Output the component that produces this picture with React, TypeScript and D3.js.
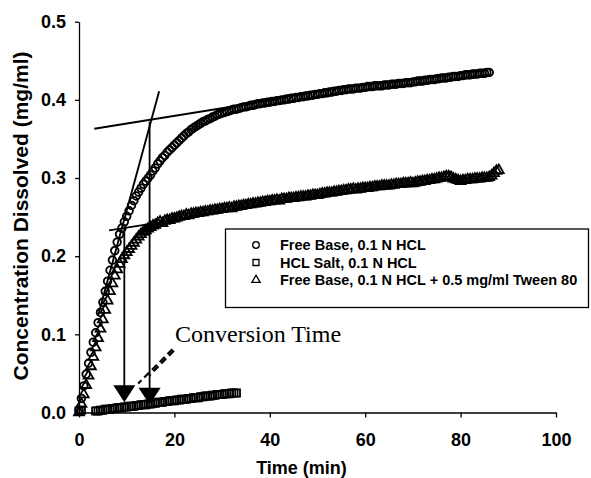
import * as d3 from "d3";
import { useEffect, useRef } from "react";

const W = 591;
const H = 478;

// runs were sampled every 0.5 min starting at t = 0
const sampleStart = 0;
const sampleStep = 0.5;

// Free Base, 0.1 N HCL (mg/ml), t = 0 .. 86 min
const freeBase = [
  0.003, 0.018, 0.034, 0.049, 0.063, 0.077, 0.09, 0.102, 0.115, 0.128,
  0.141, 0.155, 0.168, 0.182, 0.195, 0.207, 0.218, 0.228, 0.236, 0.244,
  0.251, 0.258, 0.265, 0.271, 0.277, 0.282, 0.287, 0.292, 0.296, 0.3,
  0.304, 0.309, 0.313, 0.318, 0.322, 0.326, 0.329, 0.333, 0.336, 0.339,
  0.342, 0.345, 0.348, 0.351, 0.354, 0.357, 0.359, 0.362, 0.364, 0.366,
  0.368, 0.37, 0.372, 0.373, 0.375, 0.376, 0.378, 0.379, 0.381, 0.382,
  0.383, 0.384, 0.385, 0.386, 0.387, 0.388, 0.388, 0.389, 0.39, 0.391,
  0.391, 0.392, 0.393, 0.393, 0.394, 0.395, 0.395, 0.396, 0.396, 0.397,
  0.397,
  0.398, 0.398, 0.399, 0.399, 0.4, 0.4, 0.401, 0.401, 0.402, 0.402,
  0.403, 0.403, 0.404, 0.404, 0.405, 0.405, 0.406, 0.406, 0.407, 0.407,
  0.408, 0.408, 0.409, 0.409, 0.41, 0.41, 0.411, 0.411, 0.412, 0.412,
  0.413, 0.413, 0.414, 0.414, 0.414, 0.415, 0.415, 0.415, 0.416, 0.416,
  0.417, 0.417, 0.417, 0.418, 0.418, 0.418, 0.418, 0.419, 0.419, 0.419,
  0.42, 0.42, 0.42, 0.421, 0.421, 0.421, 0.422, 0.422, 0.422, 0.423,
  0.423, 0.424, 0.424, 0.424, 0.425, 0.425, 0.426, 0.426, 0.426, 0.427,
  0.427, 0.428, 0.428, 0.428, 0.429, 0.429, 0.43, 0.43, 0.43, 0.431,
  0.431, 0.432, 0.432, 0.432, 0.433, 0.433, 0.433, 0.434, 0.434, 0.434,
  0.435, 0.435,
];

// HCL Salt, 0.1 N HCL (mg/ml), t = 0 .. 33 min, null = no sample
const hclSalt = [
  0.002, 0.003, null, null, null, null, null, 0.002, 0.002, 0.003,
  0.003, 0.004, 0.004, 0.004, 0.005, 0.005, 0.006, 0.006, 0.006, 0.007,
  0.007, 0.008, 0.008, 0.008, 0.009, 0.009, 0.01, 0.01, 0.01, 0.011,
  0.011, 0.012, 0.012, 0.013, 0.013, 0.013, 0.014, 0.014, 0.015, 0.015,
  0.015, 0.016, 0.016, 0.017, 0.017, 0.017, 0.018, 0.018, 0.019, 0.019,
  0.019, 0.02, 0.02, 0.021, 0.021, 0.021, 0.022, 0.022, 0.023, 0.023,
  0.023, 0.024, 0.024, 0.024, 0.025, 0.025, 0.025,
];

// Free Base, 0.1 N HCL + 0.5 mg/ml Tween 80 (mg/ml), t = 0 .. 88 min
const tween = [
  0.0, 0.011, 0.023, 0.035, 0.047, 0.059, 0.071, 0.083, 0.095, 0.107,
  0.119, 0.131, 0.143, 0.155, 0.165, 0.175, 0.183, 0.19, 0.196, 0.201,
  0.205, 0.209, 0.213, 0.217, 0.221, 0.225, 0.228, 0.231, 0.233, 0.235,
  0.237, 0.239, 0.24, 0.242, 0.244, 0.242, 0.245, 0.246, 0.246, 0.248,
  0.248, 0.249, 0.25, 0.251, 0.251, 0.253, 0.252, 0.254, 0.254, 0.255,
  0.255,
  0.256, 0.256, 0.257, 0.257, 0.258, 0.258, 0.259, 0.259, 0.26, 0.26,
  0.261, 0.261, 0.262, 0.261, 0.263, 0.263, 0.264, 0.264, 0.265, 0.265,
  0.266, 0.266, 0.267, 0.267, 0.268, 0.268, 0.269, 0.269, 0.27, 0.27,
  0.271, 0.271, 0.272, 0.271, 0.273, 0.273, 0.273, 0.274, 0.274, 0.274,
  0.275, 0.275, 0.276, 0.276, 0.276, 0.277, 0.277, 0.278, 0.278, 0.278,
  0.279, 0.28, 0.28, 0.281, 0.281, 0.281, 0.282, 0.282, 0.283, 0.283,
  0.284, 0.284, 0.285, 0.285, 0.286, 0.285, 0.286, 0.286, 0.287, 0.287,
  0.287, 0.288, 0.288, 0.289, 0.289, 0.289, 0.29, 0.29, 0.29, 0.29,
  0.291, 0.291, 0.292, 0.292, 0.292, 0.293, 0.293, 0.293, 0.294, 0.293,
  0.294, 0.295, 0.295, 0.296, 0.296, 0.297, 0.297, 0.298, 0.298, 0.299,
  0.3, 0.3, 0.301, 0.302, 0.302, 0.301, 0.299, 0.298, 0.297, 0.296,
  0.297, 0.297, 0.298, 0.298, 0.298, 0.299, 0.299, 0.299, 0.3, 0.3,
  0.3, 0.301, 0.303, 0.306, 0.309, 0.31,
];

const xTicks = [0, 20, 40, 60, 80, 100];
const yTicks = [0, 0.1, 0.2, 0.3, 0.4, 0.5];

const legendLabels = [
  "Free Base, 0.1 N HCL",
  "HCL Salt, 0.1 N HCL",
  "Free Base, 0.1 N HCL + 0.5 mg/ml Tween 80",
];

// hand drawn tangents, [t, c] end points
const tangents = [
  [[3.2, 0.363], [42, 0.401]],
  [[6.3, 0.233], [25, 0.251]],
  [[4, 0.124], [16.8, 0.411]],
];

// conversion times (min), where the arrows start and where they point
const conversionTimes = [9.5, 14.8];
const conversionTops = [0.236, 0.372];
const conversionTips = [0.013, 0.01];

// dashed pointers from the "Conversion Time" note
const pointers = [
  [[19.6, 0.081], [12.4, 0.037]],
  [[19.9, 0.079], [14.7, 0.047]],
];

export default function App() {
  const ref = useRef<SVGSVGElement>(null);

  useEffect(() => {
    const svg = d3.select(ref.current);
    svg.selectAll("*").remove();

    const font = "'Liberation Sans', Arial, sans-serif";
    const x = d3.scaleLinear().domain([0, 100]).range([79, 556]);
    const y = d3.scaleLinear().domain([0, 0.5]).range([412.5, 21.7]);

    // axes
    const xAxis = svg
      .append("g")
      .attr("transform", `translate(0,${y(0)})`)
      .call(
        d3
          .axisBottom(x)
          .tickValues(xTicks)
          .tickSize(5)
          .tickSizeOuter(0)
          .tickPadding(16)
          .tickFormat(d3.format("d"))
      );
    const yAxis = svg
      .append("g")
      .attr("transform", `translate(${x(0)},0)`)
      .call(
        d3
          .axisLeft(y)
          .tickValues(yTicks)
          .tickSize(4)
          .tickSizeOuter(0)
          .tickPadding(9)
          .tickFormat(d3.format(".1f"))
      );
    [xAxis, yAxis].forEach((g) => {
      g.selectAll("text")
        .attr("font-family", font)
        .attr("font-size", 18)
        .attr("font-weight", "bold")
        .attr("fill", "#000");
      g.selectAll("line,path").attr("stroke", "#000").attr("stroke-width", 1.3);
    });

    // axis titles
    svg
      .append("text")
      .attr("x", x(50) - 16)
      .attr("y", 474)
      .attr("text-anchor", "middle")
      .attr("font-family", font)
      .attr("font-size", 18)
      .attr("font-weight", "bold")
      .text("Time (min)");
    svg
      .append("text")
      .attr("transform", `translate(28,216) rotate(-90)`)
      .attr("text-anchor", "middle")
      .attr("font-family", font)
      .attr("font-size", 21)
      .attr("font-weight", "bold")
      .text("Concentration Dissolved (mg/ml)");

    const toPoints = (vals: (number | null)[]) =>
      vals
        .map((c, i) => ({ t: sampleStart + i * sampleStep, c }))
        .filter((d) => d.c !== null) as { t: number; c: number }[];

    const circleSym = d3.symbol().type(d3.symbolCircle).size(46);
    const squareSym = d3.symbol().type(d3.symbolSquare).size(52);
    const triSym = d3.symbol().type(d3.symbolTriangle).size(42);

    const series = [
      { vals: freeBase, sym: circleSym },
      { vals: hclSalt, sym: squareSym },
      { vals: tween, sym: triSym },
    ];

    series.forEach((s) => {
      svg
        .append("g")
        .selectAll("path")
        .data(toPoints(s.vals))
        .join("path")
        .attr("transform", (d) => `translate(${x(d.t)},${y(d.c)})`)
        .attr("d", s.sym()!)
        .attr("fill", "none")
        .attr("stroke", "#000")
        .attr("stroke-width", 1.8);
    });

    // tangent lines
    const line = d3
      .line<number[]>()
      .x((d) => x(d[0]))
      .y((d) => y(d[1]));
    svg
      .append("g")
      .selectAll("path")
      .data(tangents)
      .join("path")
      .attr("d", (d) => line(d))
      .attr("fill", "none")
      .attr("stroke", "#000")
      .attr("stroke-width", 1.9);

    // conversion arrows
    const headW = 22;
    const headH = 17;
    conversionTimes.forEach((t, i) => {
      const cx = x(t);
      const tip = y(conversionTips[i]);
      svg
        .append("line")
        .attr("x1", cx)
        .attr("x2", cx)
        .attr("y1", y(conversionTops[i]))
        .attr("y2", tip - headH + 1)
        .attr("stroke", "#000")
        .attr("stroke-width", 1.8);
      svg
        .append("path")
        .attr(
          "d",
          `M${cx - headW / 2},${tip - headH}L${cx + headW / 2},${tip - headH}L${cx},${tip}Z`
        )
        .attr("fill", "#000");
    });

    svg
      .append("g")
      .selectAll("path")
      .data(pointers)
      .join("path")
      .attr("d", (d) => line(d))
      .attr("fill", "none")
      .attr("stroke", "#000")
      .attr("stroke-width", 2.2)
      .attr("stroke-dasharray", "7,4");

    svg
      .append("text")
      .attr("x", 175)
      .attr("y", 342)
      .attr("font-family", "'Liberation Serif', 'Times New Roman', serif")
      .attr("font-size", 24)
      .text("Conversion Time");

    // legend
    const lg = svg.append("g");
    lg.append("rect")
      .attr("x", 225.5)
      .attr("y", 229)
      .attr("width", 363)
      .attr("height", 78.5)
      .attr("fill", "#fff")
      .attr("stroke", "#000")
      .attr("stroke-width", 1.3);
    const legendSyms = [
      d3.symbol().type(d3.symbolCircle).size(34),
      d3.symbol().type(d3.symbolSquare).size(36),
      d3.symbol().type(d3.symbolTriangle).size(30),
    ];
    legendLabels.forEach((label, i) => {
      const ry = 245 + i * 17.5;
      lg.append("path")
        .attr("transform", `translate(256,${ry})`)
        .attr("d", legendSyms[i]()!)
        .attr("fill", "#fff")
        .attr("stroke", "#000")
        .attr("stroke-width", 1.3);
      lg.append("text")
        .attr("x", 280)
        .attr("y", ry + 5)
        .attr("font-family", font)
        .attr("font-size", 14.5)
        .attr("font-weight", "bold")
        .text(label);
    });
  }, []);

  return (
    <svg
      ref={ref}
      width={W}
      height={H}
      style={{ position: "absolute", left: 0, top: 0, background: "#fff" }}
    />
  );
}
